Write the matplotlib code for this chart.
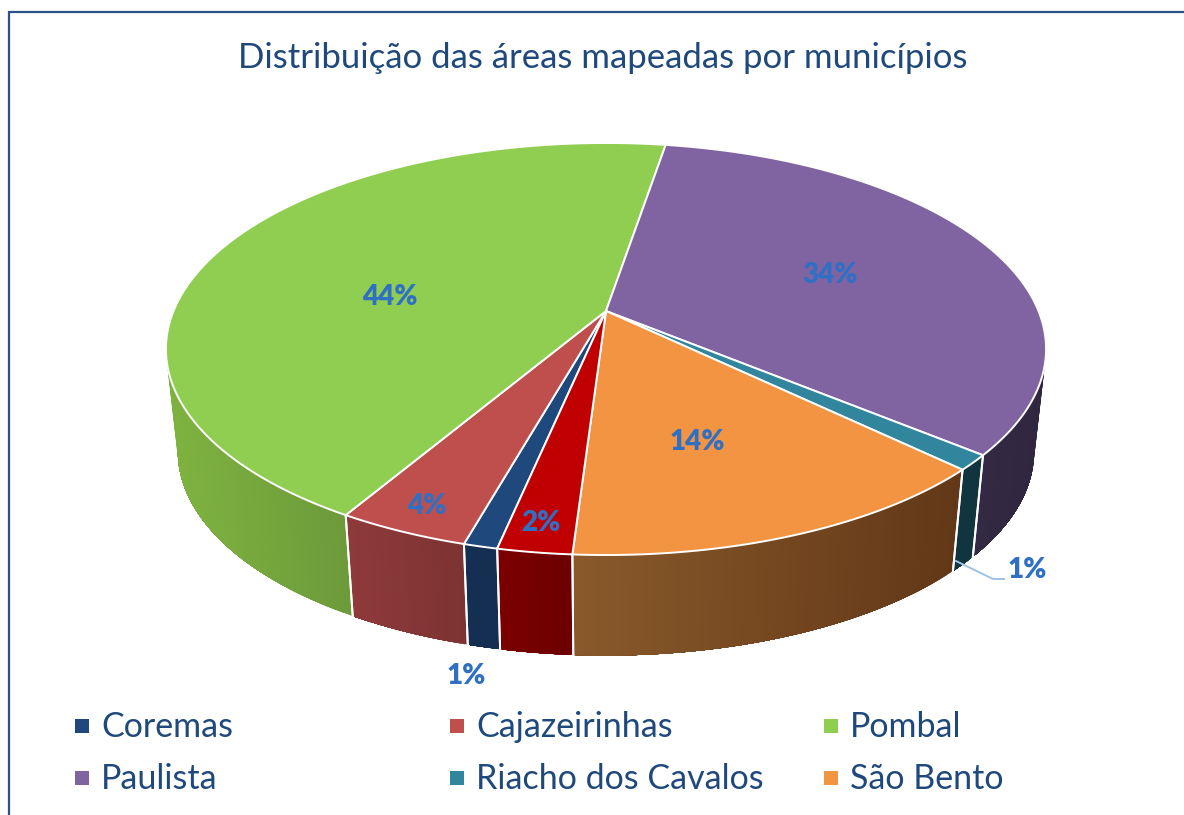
import numpy as np
import matplotlib
matplotlib.use("Agg")
import matplotlib.pyplot as plt
from matplotlib.colors import to_rgb
from matplotlib.patches import Polygon, Rectangle

# share of each slice, clockwise, the red one has no legend entry
municipios = ["Coremas", "Cajazeirinhas", "Pombal", "Paulista", "Riacho dos Cavalos", "São Bento", ""]
valores = [1.05, 4.1, 44.25, 33.5, 1.2, 13.8, 2.3]

cores_topo = ["#1f497d", "#be4f4c", "#8fce50", "#8064a2", "#31859c", "#f39443", "#c00000"]
cores_lado_esq = ["#152f52", "#8f3a3a", "#7fb340", "#352a45", "#10353f", "#8a5a2b", "#7c0000"]
cores_lado_dir = ["#152f52", "#7b3332", "#6c9a3a", "#30263f", "#10353f", "#623818", "#6c0000"]

titulo = "Distribuição das áreas mapeadas por municípios"
FONTE = "Lato"
AZUL = "#1f497d"
AZUL_ROTULO = "#3070c4"

# layout in pixels
INICIO = 191.9
CX, CY = 606, 311
A, B, K = 199.0, 432.5, 0.1845
ESCALA_X, ESCALA_Y, CY_BASE = 0.973, 0.99, 414
rotulos_xy = [(466, 676), (427, 506), (390, 297), (830, 275), (1027, 570), (697, 442), (541, 523)]


def topo(theta):
    t = np.radians(theta)
    w = 1 + K * np.cos(t)
    return CX + B * np.sin(t) / w, CY - A * np.cos(t) / w


def base(theta):
    x, y = topo(theta)
    return CX + (x - CX) * ESCALA_X, CY_BASE + (y - CY) * ESCALA_Y


fig = plt.figure(figsize=(11.84, 8.15), dpi=100)
ax = fig.add_axes([0, 0, 1, 1])
ax.set_xlim(0, 1184)
ax.set_ylim(815, 0)
ax.axis("off")

# frame, only top and left show up
ax.plot([1184, 9, 9], [12, 12, 815], color="#2a5288", lw=1.6, solid_joinstyle="miter")

angulos = INICIO + np.cumsum([0] + valores) / sum(valores) * 360
LIM_DIR = np.degrees(np.arccos(-K))
LIM_ESQ = 360 - LIM_DIR

# side walls first, the top faces go over them
for i in range(len(valores)):
    for desloc in (0, 360, -360):
        a0 = max(angulos[i] + desloc, LIM_DIR)
        a1 = min(angulos[i + 1] + desloc, LIM_ESQ)
        if a1 <= a0:
            continue
        t = np.linspace(a0, a1, 40)
        xt, yt = topo(t)
        xb, yb = base(t)
        x_min, x_max = min(xt.min(), xb.min()), max(xt.max(), xb.max())
        # each strip runs to the end of the slice so no seams show between strips
        for j in range(len(t) - 1):
            f = (xt[j] - x_min) / (x_max - x_min)
            cor = np.array(to_rgb(cores_lado_esq[i])) * (1 - f) + np.array(to_rgb(cores_lado_dir[i])) * f
            pts = np.column_stack([np.r_[xt[j:], xb[j:][::-1]], np.r_[yt[j:], yb[j:][::-1]]])
            ax.add_patch(Polygon(pts, closed=True, facecolor=cor, edgecolor="none", zorder=2))
        # white seams between walls
        for a in (a0, a1):
            if a not in (LIM_DIR, LIM_ESQ):
                xa, ya = topo(a)
                xc, yc = base(a)
                ax.plot([xa, xc], [ya, yc], color="white", lw=1.4, zorder=3)

for i in range(len(valores)):
    t = np.linspace(angulos[i], angulos[i + 1], 120)
    x, y = topo(t)
    pts = np.column_stack([np.r_[CX, x], np.r_[CY, y]])
    ax.add_patch(Polygon(pts, closed=True, facecolor=cores_topo[i], edgecolor="white", lw=1.4, zorder=4))

# data labels
for i, (x, y) in enumerate(rotulos_xy):
    ax.text(x, y, f"{round(valores[i])}%", color=AZUL_ROTULO, fontsize=20, fontweight="heavy",
            family=FONTE, ha="center", va="center", zorder=6)
ax.plot([956, 993, 1004], [561, 579, 579], color="#9dc3e6", lw=1.4, zorder=5)

ax.text(603, 58, titulo, color=AZUL, fontsize=25, family=FONTE, ha="center", va="center")

# legend, three columns by two rows
col_x = [82, 457, 831]
lin_y = [726, 778]
for i, nome in enumerate(municipios[:6]):
    x = col_x[i % 3]
    y = lin_y[i // 3]
    ax.add_patch(Rectangle((x - 7, y - 7), 14, 14, facecolor=cores_topo[i], edgecolor="none"))
    ax.text(x + 19, y + 1, nome, color=AZUL, fontsize=24.5, family=FONTE, ha="left", va="center")

fig.savefig("out.png", dpi=100)
